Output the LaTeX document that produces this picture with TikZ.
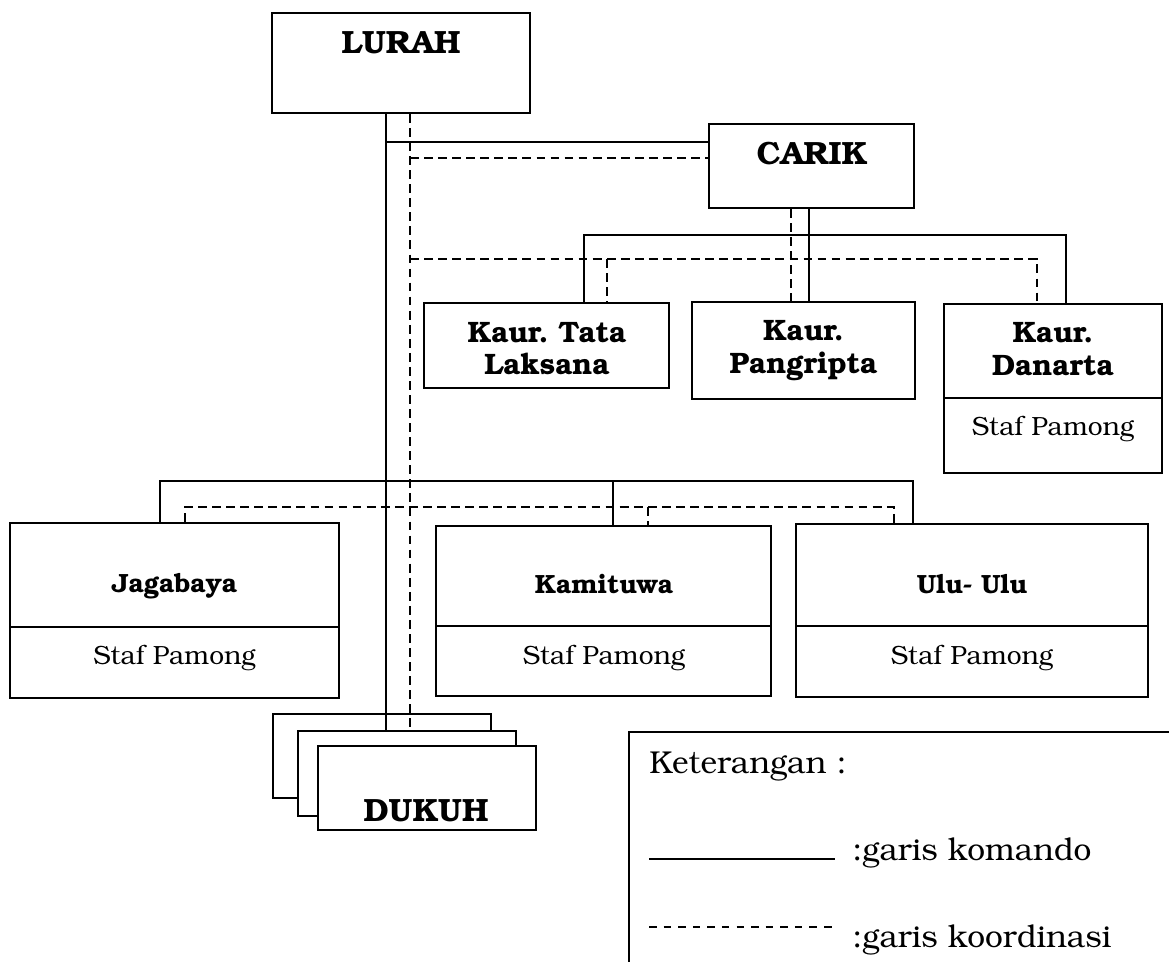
\documentclass[tikz,border=0pt]{standalone}
\usepackage[T1]{fontenc}
\usepackage{bookman}
\usepackage{tikz}

\begin{document}
\begin{tikzpicture}[x=0.02cm,y=-0.02cm]

  \useasboundingbox (0,0) rectangle (1169,962);

  % node styles
  \tikzstyle{Box}=[
  draw,
  line width=1.1pt,
  fill=white,
  shape=rectangle,
  inner sep=0pt]

  \tikzstyle{Head}=[font=\fontsize{18.3}{18.7}\selectfont\bfseries,anchor=base,inner sep=0pt]
  \tikzstyle{Kaur}=[font=\fontsize{16.8}{18.7}\selectfont\bfseries\frenchspacing,align=center,inner sep=0pt]
  \tikzstyle{Sub}=[font=\fontsize{15}{17}\selectfont\bfseries,anchor=base,inner sep=0pt]
  \tikzstyle{Staf}=[font=\fontsize{15}{17}\selectfont,anchor=base,inner sep=0pt]
  \tikzstyle{Note}=[font=\fontsize{18}{20}\selectfont,anchor=base west,inner sep=0pt]

  % line styles
  \tikzstyle{Komando}=[line width=0.9pt]
  \tikzstyle{Koor}=[line width=0.9pt,dash pattern=on 5pt off 3pt]

  % boxes
  \node[Box,minimum width=5.16cm,minimum height=2.00cm] (L)   at (401,63)     {};
  \node[Box,minimum width=4.10cm,minimum height=1.68cm] (C)   at (811.5,166)  {};
  \node[Box,minimum width=4.90cm,minimum height=1.70cm] (K1)  at (546.5,345.5) {};
  \node[Box,minimum width=4.46cm,minimum height=1.94cm] (K2)  at (803.5,350.5) {};
  \node[Box,minimum width=4.36cm,minimum height=1.88cm] (K3)  at (1053,351)   {};
  \node[Box,minimum width=4.36cm,minimum height=1.50cm] (K3s) at (1053,435.5) {};

  \node[Box,minimum width=6.58cm,minimum height=2.08cm] (J1)  at (174.5,575)  {};
  \node[Box,minimum width=6.58cm,minimum height=1.42cm] (J1s) at (174.5,662.5) {};
  \node[Box,minimum width=6.70cm,minimum height=2.00cm] (J2)  at (603.5,576)  {};
  \node[Box,minimum width=6.70cm,minimum height=1.40cm] (J2s) at (603.5,661)  {};
  \node[Box,minimum width=7.04cm,minimum height=2.04cm] (J3)  at (972,575)    {};
  \node[Box,minimum width=7.04cm,minimum height=1.42cm] (J3s) at (972,661.5)  {};

  % dukuh stack
  \node[Box,minimum width=4.36cm,minimum height=1.68cm] (D1)  at (382,756)    {};
  \node[Box,minimum width=4.36cm,minimum height=1.70cm] (D2)  at (407,773.5)  {};
  \node[Box,minimum width=4.36cm,minimum height=1.68cm] (D3)  at (427,788)    {};

  % garis komando
  \coordinate (X)  at (386,142);
  \coordinate (B0) at (809,235);
  \coordinate (B1) at (584,235);
  \coordinate (B2) at (1066,235);
  \coordinate (P1) at (160,481);
  \coordinate (P2) at (613,481);
  \coordinate (P3) at (913,481);

  \draw[Komando] (L.south -| X) -- (X |- D2.north);
  \draw[Komando] (X) -- (X -| C.west);
  \draw[Komando] (C.south -| B0) -- (B0 |- K2.north);
  \draw[Komando] (K1.north -| B1) -- (B1) -- (B2) -- (K3.north -| B2);
  \draw[Komando] (J1.north -| P1) -- (P1) -- (P3) -- (J3.north -| P3);
  \draw[Komando] (P2) -- (P2 |- J2.north);

  % garis koordinasi
  \coordinate (Y)  at (410,158);
  \coordinate (E0) at (791,259);
  \coordinate (E1) at (607,259);
  \coordinate (E2) at (1037,259);
  \coordinate (Q1) at (185,507);
  \coordinate (Q2) at (648,507);
  \coordinate (Q3) at (894,507);

  \draw[Koor] (L.south -| Y) -- (Y |- D2.north);
  \draw[Koor] (Y) -- (Y -| C.west);
  \draw[Koor] (C.south -| E0) -- (E0 |- K2.north);
  \draw[Koor] (Y |- E1) -- (E2) -- (E2 |- K3.north);
  \draw[Koor] (E1) -- (E1 |- K1.north);
  \draw[Koor] (J1.north -| Q1) -- (Q1) -- (Q3) -- (J3.north -| Q3);
  \draw[Koor] (Q2) -- (Q2 |- J2.north);

  % texts
  \node[Head] (tL) at (401,54)  {LURAH};
  \node[Head] (tC) at (812,165) {CARIK};
  \node[Kaur] (tK1) at (547,348.6)  {Kaur. Tata\\Laksana};
  \node[Kaur] (tK2) at (803.5,350.7) {Kaur.\\Pangripta};
  \node[Kaur] (tK3) at (1053,349.1) {Kaur.\\Danarta};
  \node[Staf] (sK3) at (1053,436) {Staf Pamong};

  \node[Sub]  (tJ1) at (174.5,592) {Jagabaya};
  \node[Staf] (sJ1) at (174.5,664) {Staf Pamong};
  \node[Sub]  (tJ2) at (604,593)   {Kamituwa};
  \node[Staf] (sJ2) at (604,664)   {Staf Pamong};
  \node[Sub]  (tJ3) at (972,593)   {Ulu- Ulu};
  \node[Staf] (sJ3) at (972,664)   {Staf Pamong};

  \node[Head] (tD) at (426,821) {DUKUH};

  % keterangan
  \node[Box,anchor=north west,minimum width=12cm,minimum height=6cm] (KET) at (628,731) {};
  \node[Note] (tKET) at (649,773) {Keterangan :};
  \coordinate (G1) at (649,859);
  \coordinate (G2) at (835,859);
  \coordinate (H1) at (649,927);
  \coordinate (H2) at (835,927);
  \draw[line width=0.8pt] (G1) -- (G2);
  \draw[line width=0.7pt,dash pattern=on 4.3pt off 4pt] (H1) -- (H2);
  \node[Note] (tG) at (852,860) {:garis komando};
  \node[Note] (tH) at (852,947) {:garis koordinasi};

\end{tikzpicture}
\end{document}
